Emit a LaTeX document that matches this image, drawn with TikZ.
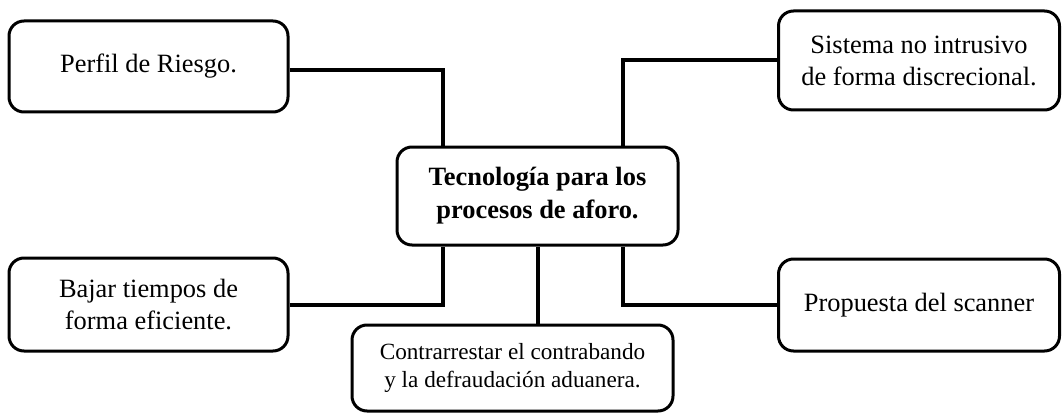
\documentclass[tikz,border=0pt]{standalone}
\usepackage{fontspec}
\setmainfont{Liberation Serif}
\begin{document}
\begin{tikzpicture}[x=1pt,y=-1pt,
  box/.style={draw=black,line width=3pt,rounded corners=15pt,align=center,inner sep=0pt,
    font=\fontsize{26.4}{32}\selectfont},
  link/.style={line width=4pt,draw=black}]
\useasboundingbox (0,0) rectangle (1062,417);
\node[box,minimum width=279pt,minimum height=91pt] (perfil) at (148.5,66.5) {Perfil de Riesgo.};
\node[box,minimum width=281pt,minimum height=99pt] (sist) at (919,60.5) {Sistema no intrusivo\\de forma discrecional.};
\node[box,minimum width=281pt,minimum height=98pt,font=\bfseries\fontsize{26.4}{33}\selectfont] (center) at (537.5,196) {Tecnología para los\\procesos de aforo.};
\node[box,minimum width=279pt,minimum height=93pt] (bajar) at (148.5,304.5) {Bajar tiempos de\\forma eficiente.};
\node[box,minimum width=281pt,minimum height=92pt] (prop) at (919,305) {Propuesta del scanner};
\node[box,minimum width=321pt,minimum height=86pt,font=\fontsize{23.2}{28}\selectfont] (contra) at (512.5,368) {Contrarrestar el contrabando\\y la defraudación aduanera.};
\coordinate (xl) at (443,0);
\coordinate (xr) at (623,0);
\draw[link] ([yshift=-4pt]perfil.east) -| (xl |- center.north);
\draw[link] (sist.west) -| (xr |- center.north);
\draw[link] (bajar.east) -| (xl |- center.south);
\draw[link] (prop.west) -| (xr |- center.south);
\draw[link] (center.south) -- (center.south |- contra.north);
\end{tikzpicture}
\end{document}
